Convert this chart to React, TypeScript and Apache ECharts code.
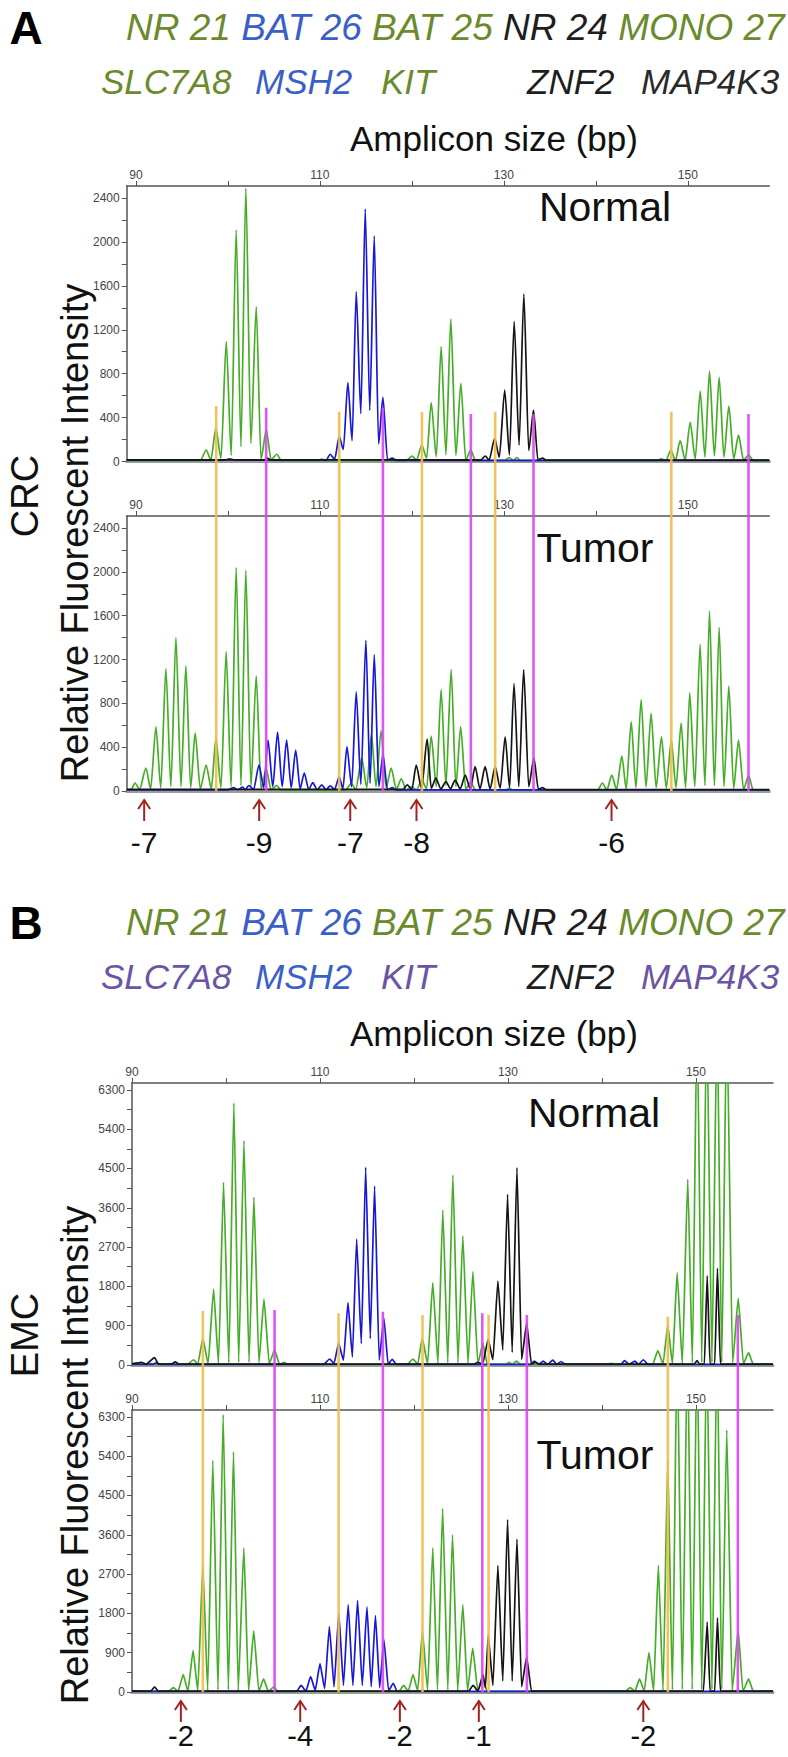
import React, { useEffect, useRef } from "react";
import * as echarts from "echarts";

// ---------- tick values ----------
const xTickMarks = [90, 100, 110, 120, 130, 140, 150];
const xTickLabels = [90, 110, 130, 150];
const crcYLabels = [0, 400, 800, 1200, 1600, 2000, 2400];
const crcYTicks = [0, 200, 400, 600, 800, 1000, 1200, 1400, 1600, 1800, 2000, 2200, 2400];
const emcYLabels = [0, 900, 1800, 2700, 3600, 4500, 5400, 6300];
const emcYTicks = [0, 450, 900, 1350, 1800, 2250, 2700, 3150, 3600, 4050, 4500, 4950, 5400, 5850, 6300];

// ---------- labels ----------
const markerNames = ["NR 21", "BAT 26", "BAT 25", "NR 24", "MONO 27"];
const geneNames = ["SLC7A8", "MSH2", "KIT", "ZNF2", "MAP4K3"];
const sampleNames = ["Normal", "Tumor"];
const crcShifts: [number, string][] = [[90.9, "-7"], [103.4, "-9"], [113.3, "-7"], [120.5, "-8"], [141.7, "-6"]];
const emcShifts: [number, string][] = [[95.2, "-2"], [107.9, "-4"], [118.5, "-2"], [126.9, "-1"], [144.4, "-2"]];

// bin lines: [size bp, top intensity in the Normal panel]
const crcBinStarts = [[98.73, 506], [112.1, 454], [121.09, 448], [129.05, 454], [148.2, 454]];
const crcBinEnds = [[104.16, 490], [116.85, 487], [126.41, 433], [133.22, 433], [156.59, 433]];
const emcBinStarts = [[97.54, 1237], [111.98, 1184], [120.91, 1145], [127.94, 1150], [147.01, 1106]];
const emcBinEnds = [[105.17, 1260], [116.69, 1221], [127.27, 1184], [132.01, 1145], [154.46, 1145]];

// ---------- traces [bp, RFU] ----------
const crcNormalGreen = [
  [89, 8], [97.0, 8], [97.64, 105], [98.15, 15], [98.69, 302], [99.25, 30], [99.82, 1092], [100.36, 55],
  [100.9, 2109], [101.42, 135], [101.95, 2489], [102.5, 165], [103.08, 1410], [103.6, 20], [104.17, 287],
  [104.7, 15], [105.32, 66], [105.8, 8], [119.4, 8], [119.99, 50], [120.5, 15], [121.08, 150], [121.6, 30],
  [122.1, 536], [122.65, 45], [123.18, 1046], [123.7, 60], [124.23, 1298], [124.78, 55], [125.32, 712],
  [125.85, 15], [126.41, 105], [126.9, 8], [130.1, 10], [130.6, 35], [131.0, 10], [131.4, 35], [131.8, 8],
  [146.6, 8], [147.1, 25], [147.6, 8], [148.15, 105], [148.65, 10], [149.16, 190], [149.7, 15], [150.25, 357],
  [150.8, 25], [151.34, 642], [151.85, 40], [152.35, 824], [152.88, 50], [153.4, 767], [153.92, 40],
  [154.45, 505], [154.98, 25], [155.5, 241], [156.05, 12], [156.6, 60], [157.1, 8], [158.85, 8]
];
const crcNormalBlue = [
  [89, 12], [99.6, 12], [100.2, 25], [100.8, 12], [109.8, 12], [110.21, 20], [110.65, 10], [111.12, 66],
  [111.6, 20], [112.1, 226], [112.55, 110], [113.04, 718], [113.5, 190], [113.95, 1547], [114.45, 437],
  [114.93, 2300], [115.42, 467], [115.91, 2054], [116.38, 160], [116.85, 585], [117.35, 15], [117.87, 30],
  [118.3, 10], [158.85, 10]
];
const crcNormalBlack = [
  [89, 15], [104.0, 15], [104.3, 30], [104.6, 15], [127.5, 15], [127.97, 50], [128.4, 15], [129.0, 210],
  [129.5, 40], [130.09, 651], [130.6, 60], [131.12, 1274], [131.65, 150], [132.17, 1526], [132.7, 100],
  [133.22, 469], [133.7, 15], [134.2, 30], [134.6, 12], [158.85, 12]
];
const crcTumorGreen = [
  [89.0, 10], [89.5, 15], [89.9, 73], [90.4, 15], [91.09, 209], [91.6, 20], [92.18, 586], [92.7, 30],
  [93.26, 1118], [93.8, 40], [94.35, 1400], [94.9, 40], [95.43, 1142], [95.95, 30], [96.44, 528], [97.0, 20],
  [97.64, 237], [98.2, 20], [98.7, 480], [99.25, 30], [99.81, 1270], [100.35, 40], [100.9, 2038], [101.42, 50],
  [101.95, 2014], [102.5, 40], [103.08, 1051], [103.6, 20], [104.17, 200], [104.7, 10], [105.3, 50], [105.8, 8],
  [112.8, 8], [113.4, 70], [113.9, 15], [114.55, 300], [115.1, 30], [115.6, 520], [116.1, 40], [116.65, 550],
  [117.2, 30], [117.75, 210], [118.3, 15], [118.85, 110], [119.4, 10], [119.99, 40], [120.5, 10], [121.08, 100],
  [121.6, 20], [122.1, 500], [122.65, 40], [123.18, 926], [123.7, 50], [124.27, 1109], [124.78, 40], [125.3, 586],
  [125.85, 20], [126.4, 80], [126.9, 8], [130.1, 8], [130.6, 25], [131.0, 8], [140.2, 8], [140.7, 73],
  [141.2, 10], [141.73, 146], [142.25, 15], [142.82, 319], [143.3, 20], [143.84, 631], [144.35, 30],
  [144.92, 835], [145.45, 35], [146.0, 708], [146.55, 30], [147.13, 495], [147.65, 25], [148.2, 465],
  [148.7, 30], [149.27, 619], [149.75, 30], [150.2, 896], [150.75, 40], [151.33, 1339], [151.85, 50],
  [152.35, 1642], [152.88, 50], [153.4, 1491], [153.92, 40], [154.45, 958], [154.98, 25], [155.5, 465],
  [156.05, 15], [156.6, 140], [157.1, 8], [158.85, 8]
];
const crcTumorBlue = [
  [89, 10], [100.0, 10], [100.6, 30], [101.1, 12], [101.6, 35], [101.9, 12], [102.25, 50], [102.8, 15],
  [103.38, 237], [103.9, 30], [104.36, 465], [104.88, 40], [105.4, 537], [105.9, 40], [106.38, 465],
  [106.88, 30], [107.37, 374], [107.85, 20], [108.3, 164], [108.78, 15], [109.23, 76], [109.7, 12],
  [110.21, 55], [110.65, 12], [111.12, 46], [111.6, 15], [112.1, 130], [112.5, 20], [112.94, 404],
  [113.45, 40], [113.95, 905], [114.45, 60], [115.0, 1376], [115.45, 70], [115.91, 1245], [116.4, 40],
  [116.85, 330], [117.35, 12], [117.87, 30], [118.3, 10], [158.85, 10]
];
const crcTumorBlack = [
  [89, 15], [119.0, 15], [119.5, 55], [120.0, 15], [120.47, 237], [121.05, 20], [121.66, 474], [122.1, 25],
  [122.6, 118], [123.15, 20], [123.7, 85], [124.2, 20], [124.7, 100], [125.25, 20], [125.8, 146], [126.35, 20],
  [126.87, 222], [127.4, 20], [127.96, 222], [128.5, 20], [129.05, 222], [129.6, 25], [130.14, 495],
  [130.62, 30], [131.1, 981], [131.62, 40], [132.15, 1109], [132.7, 40], [133.26, 300], [133.75, 15],
  [134.2, 30], [134.6, 12], [158.85, 12]
];

const emcNormalGreen = [
  [90, 15], [91.6, 15], [92.0, 40], [92.5, 15], [95.9, 15], [96.55, 120], [97.0, 20], [97.54, 611], [98.1, 30],
  [98.68, 1740], [99.2, 40], [99.74, 4183], [100.3, 50], [100.84, 6000], [101.35, 60], [101.91, 5137],
  [102.45, 60], [102.97, 3840], [103.5, 50], [104.04, 1511], [104.6, 30], [105.17, 343], [105.7, 15],
  [106.2, 60], [106.6, 15], [119.3, 15], [119.89, 137], [120.4, 20], [120.88, 611], [121.45, 30], [122.0, 1885],
  [122.55, 40], [123.07, 3550], [123.6, 50], [124.14, 4351], [124.68, 50], [125.2, 2954], [125.75, 40],
  [126.27, 2137], [126.8, 30], [127.33, 496], [127.8, 15], [129.8, 15], [130.1, 60], [130.5, 15], [130.9, 90],
  [131.3, 15], [140.5, 15], [141.0, 40], [141.5, 15], [145.4, 15], [145.95, 328], [146.5, 25], [147.01, 916],
  [147.5, 30], [148.0, 2114], [148.55, 40], [149.13, 4252], [149.62, 50], [150.12, 8000], [150.62, 60],
  [151.15, 8000], [151.7, 60], [152.25, 8000], [152.75, 60], [153.28, 8000], [153.9, 50], [154.5, 1527],
  [155.05, 30], [155.6, 282], [156.1, 15], [158.2, 15]
];
const emcNormalBlue = [
  [90, 15], [92.2, 15], [92.6, 50], [93.0, 15], [110.4, 15], [111.02, 137], [111.5, 40], [111.98, 496],
  [112.5, 110], [112.98, 1427], [113.45, 183], [113.9, 2885], [114.4, 488], [114.86, 4527], [115.35, 603],
  [115.81, 4099], [116.3, 114], [116.8, 1069], [117.25, 20], [117.69, 130], [118.1, 15], [132.4, 15],
  [132.8, 90], [133.3, 15], [133.75, 90], [134.2, 15], [134.77, 110], [135.2, 15], [135.65, 80], [136.1, 15],
  [142.0, 15], [142.4, 100], [142.9, 15], [143.5, 90], [143.9, 15], [144.4, 120], [144.9, 15], [158.2, 15]
];
const emcNormalBlack = [
  [90, 25], [91.0, 60], [91.5, 20], [92.4, 168], [92.8, 20], [94.2, 25], [94.6, 70], [95.0, 20], [126.4, 20],
  [126.8, 60], [127.3, 20], [127.9, 588], [128.4, 120], [128.93, 1924], [129.45, 343], [129.96, 3909],
  [130.45, 290], [130.96, 4519], [131.45, 130], [131.99, 954], [132.5, 20], [132.9, 60], [133.3, 20],
  [149.8, 20], [150.12, 100], [150.4, 20], [150.9, 20], [151.2, 2045], [151.5, 20], [152.0, 20],
  [152.29, 2214], [152.6, 20], [158.2, 20]
];
const emcTumorGreen = [
  [90, 15], [93.9, 15], [94.4, 100], [94.9, 15], [95.45, 400], [95.95, 20], [96.5, 950], [97.0, 30],
  [97.54, 2900], [98.05, 40], [98.6, 5300], [99.15, 50], [99.7, 6350], [100.25, 50], [100.8, 5500],
  [101.3, 40], [101.9, 3300], [102.4, 30], [102.95, 1400], [103.5, 20], [104.0, 300], [104.5, 15],
  [105.1, 120], [105.5, 15], [118.4, 15], [118.9, 150], [119.4, 20], [119.9, 400], [120.4, 30], [120.9, 1400],
  [121.45, 40], [122.0, 3300], [122.5, 50], [123.05, 4200], [123.6, 50], [124.1, 3600], [124.65, 40],
  [125.2, 2000], [125.7, 30], [126.25, 1000], [126.8, 20], [127.3, 300], [127.8, 15], [142.5, 15],
  [143.0, 100], [143.5, 15], [144.0, 300], [144.5, 20], [145.0, 900], [145.5, 30], [146.0, 2900],
  [146.5, 40], [147.0, 5300], [147.5, 50], [148.0, 8000], [148.55, 60], [149.1, 8000], [149.6, 60],
  [150.12, 8000], [150.62, 60], [151.15, 8000], [151.7, 60], [152.25, 8000], [152.75, 60], [153.28, 6000],
  [153.85, 40], [154.5, 1400], [155.0, 20], [155.6, 300], [156.1, 15], [158.2, 15]
];
const emcTumorBlue = [
  [90, 15], [107.5, 15], [108.0, 150], [108.5, 20], [109.0, 350], [109.5, 40], [110.0, 650], [110.5, 80],
  [111.0, 1500], [111.5, 120], [112.0, 1800], [112.5, 150], [113.0, 2000], [113.5, 150], [114.0, 2100],
  [114.5, 150], [115.0, 1950], [115.45, 120], [115.9, 1750], [116.35, 100], [116.8, 1200], [117.3, 30],
  [117.8, 200], [118.2, 15], [158.2, 15]
];
const emcTumorBlack = [
  [90, 25], [92.0, 20], [92.4, 120], [92.8, 20], [125.8, 20], [126.3, 150], [126.8, 20], [127.35, 400],
  [127.6, 100], [127.9, 1300], [128.4, 150], [128.93, 2900], [129.45, 250], [129.96, 3950], [130.45, 250],
  [130.96, 3500], [131.45, 120], [131.99, 800], [132.5, 20], [150.8, 20], [151.2, 1600], [151.5, 20],
  [152.0, 20], [152.29, 1700], [152.6, 20], [158.2, 20]
];

// ---------- styles ----------
const FONT = "'Liberation Sans', Arial, Helvetica, sans-serif";
const C_GREEN = "#45ad28";
const C_BLUE = "#1717d6";
const C_BLACK = "#151515";
const C_ORANGE = "#efbd4c";
const C_MAGENTA = "#d846f0";
const C_ARROW = "#a3231f";
const T_GREEN = "#6b8a2c";
const T_BLUE = "#3a5fc6";
const T_BLACK = "#1e1e1e";
const T_PURPLE = "#6b54a6";

function buildOption() {
  const grid: any[] = [];
  const xAxis: any[] = [];
  const yAxis: any[] = [];
  const series: any[] = [];

  const axisText = { fontSize: 12, color: "#444", fontFamily: FONT, formatter: (v: number) => String(v) };

  function addPanel(p: any) {
    const gi = grid.length;
    grid.push({ left: p.left, top: p.top, width: p.width, height: p.height });
    const xi = xAxis.length;
    xAxis.push({
      gridIndex: gi, type: "value", position: "top", min: p.xMin, max: p.xMax,
      axisLine: { show: true, onZero: false, lineStyle: { color: "#555", width: 1.5 } },
      axisTick: { show: true, customValues: xTickMarks, length: 5, lineStyle: { color: "#555", width: 1 } },
      axisLabel: { show: true, customValues: xTickLabels, margin: 5, ...axisText },
      splitLine: { show: false },
    });
    xAxis.push({
      gridIndex: gi, type: "value", position: "bottom", min: p.xMin, max: p.xMax,
      axisLine: { show: true, onZero: false, lineStyle: { color: "#9c9c9c", width: 3 } },
      axisTick: { show: false }, axisLabel: { show: false }, splitLine: { show: false },
    });
    const yi = yAxis.length;
    yAxis.push({
      gridIndex: gi, type: "value", min: 0, max: p.yMax,
      axisLine: { show: true, onZero: false, lineStyle: { color: "#555", width: 1.5 } },
      axisTick: { show: true, customValues: p.yTicks, length: 5, lineStyle: { color: "#555", width: 1 } },
      axisLabel: { show: true, customValues: p.yLabels, margin: 7, ...axisText },
      splitLine: { show: false },
    });
    p.traces.forEach((t: any) => {
      series.push({
        type: "line", xAxisIndex: xi, yAxisIndex: yi, data: t.data, symbol: "none", showSymbol: false,
        smooth: p.smooth, smoothMonotone: "x",
        lineStyle: { color: t.color, width: 1.7 }, itemStyle: { color: t.color }, clip: true, z: 2, silent: true,
      });
    });
    return { xi, yi };
  }

  function addBins(left: number, width: number, top: number, height: number, xMin: number, xMax: number,
                   yMin: number, yMax: number, starts: number[][], ends: number[][]) {
    const gi = grid.length;
    grid.push({ left, top, width, height });
    const xi = xAxis.length;
    xAxis.push({ gridIndex: gi, type: "value", min: xMin, max: xMax, show: false });
    const yi = yAxis.length;
    yAxis.push({ gridIndex: gi, type: "value", min: yMin, max: yMax, show: false });
    const mk = (data: number[][], color: string) => ({
      type: "custom", xAxisIndex: xi, yAxisIndex: yi, data, clip: false, z: 5, silent: true,
      renderItem: (_params: any, api: any) => {
        const a = api.coord([api.value(0), api.value(1)]);
        const b = api.coord([api.value(0), yMin]);
        return {
          type: "line",
          shape: { x1: a[0], y1: a[1], x2: b[0], y2: b[1] },
          style: { stroke: color, lineWidth: 2.6, opacity: 0.9 },
        };
      },
    });
    series.push(mk(starts, C_ORANGE));
    series.push(mk(ends, C_MAGENTA));
  }

  function addArrows(xi: number, yi: number, shifts: [number, string][], labelOffset: number, fontSize: number) {
    series.push({
      type: "custom", xAxisIndex: xi, yAxisIndex: yi, data: shifts.map((s) => [s[0], 0]),
      clip: false, z: 6, silent: true,
      renderItem: (params: any, api: any) => {
        const pt = api.coord([api.value(0), 0]);
        const x = pt[0];
        const y0 = pt[1];
        return {
          type: "group",
          children: [
            { type: "line", shape: { x1: x, y1: y0 + 9, x2: x, y2: y0 + 30 }, style: { stroke: C_ARROW, lineWidth: 2 } },
            { type: "polyline", shape: { points: [[x - 6, y0 + 18], [x, y0 + 9], [x + 6, y0 + 18]] },
              style: { stroke: C_ARROW, fill: "none", lineWidth: 2 } },
            { type: "text", style: {
                text: shifts[params.dataIndex][1], x, y: y0 + labelOffset, fill: "#111",
                fontSize, fontFamily: FONT, align: "center", verticalAlign: "middle",
                textAlign: "center", textVerticalAlign: "middle" } },
          ],
        };
      },
    });
  }

  // ---- CRC (A) ----
  const A = { left: 126.7, width: 642.6, xMin: 89, xMax: 158.85, yMax: 2510, yLabels: crcYLabels, yTicks: crcYTicks, smooth: 0.25 };
  addPanel({ ...A, top: 186, height: 275.5, traces: [
    { data: crcNormalGreen, color: C_GREEN }, { data: crcNormalBlue, color: C_BLUE }, { data: crcNormalBlack, color: C_BLACK }] });
  const aT = addPanel({ ...A, top: 516, height: 275, traces: [
    { data: crcTumorGreen, color: C_GREEN }, { data: crcTumorBlue, color: C_BLUE }, { data: crcTumorBlack, color: C_BLACK }] });
  const aOvH = 516 + 275 - 186;
  addBins(A.left, A.width, 186, aOvH, A.xMin, A.xMax, A.yMax - (aOvH / 275.5) * A.yMax, A.yMax, crcBinStarts, crcBinEnds);
  addArrows(aT.xi, aT.yi, crcShifts, 51, 30);

  // ---- EMC (B) ----
  const bTop = 1083, bTumTop = 1410, bH = 282;
  const B = { left: 132, width: 641, xMin: 90, xMax: 158.2, yMax: 6458, yLabels: emcYLabels, yTicks: emcYTicks, smooth: 0.15 };
  addPanel({ ...B, top: bTop, height: bH, traces: [
    { data: emcNormalGreen, color: C_GREEN }, { data: emcNormalBlue, color: C_BLUE }, { data: emcNormalBlack, color: C_BLACK }] });
  const bT = addPanel({ ...B, top: bTumTop, height: bH, traces: [
    { data: emcTumorGreen, color: C_GREEN }, { data: emcTumorBlue, color: C_BLUE }, { data: emcTumorBlack, color: C_BLACK }] });
  const bOvH = bTumTop + bH - bTop;
  addBins(B.left, B.width, bTop, bOvH, B.xMin, B.xMax, B.yMax - (bOvH / bH) * B.yMax, B.yMax, emcBinStarts, emcBinEnds);
  addArrows(bT.xi, bT.yi, emcShifts, 44, 29);

  // ---- texts ----
  const txt = (text: string, x: number, y: number, size: number, fill: string, extra: any = {}) => ({
    type: "text", x, y, silent: true, rotation: extra.rotation || 0,
    style: {
      text, fill, fontSize: size, fontFamily: FONT, fontStyle: extra.italic ? "italic" : "normal",
      fontWeight: extra.bold ? "bold" : "normal",
      align: extra.align || "left", verticalAlign: "middle",
      textAlign: extra.align || "left", textVerticalAlign: "middle",
    },
  });

  const richStyle = (fill: string) => ({ fill, color: fill, fontSize: 37, fontStyle: "italic", fontFamily: FONT });
  const row1 = (x: number, y: number) => ({
    type: "text", x, y, silent: true,
    style: {
      text: `{g|${markerNames[0]}} {b|${markerNames[1]}} {g|${markerNames[2]}} {k|${markerNames[3]}} {g|${markerNames[4]}}`,
      fontSize: 37, fontStyle: "italic", fontFamily: FONT, fill: T_GREEN,
      verticalAlign: "middle", textVerticalAlign: "middle", align: "left", textAlign: "left",
      rich: { g: richStyle(T_GREEN), b: richStyle(T_BLUE), k: richStyle(T_BLACK) },
    },
  });

  const rowX2 = [101, 255, 381, 527, 641];
  const row2ColorsA = [T_GREEN, T_BLUE, T_GREEN, T_BLACK, "#2a2a2a"];
  const row2ColorsB = [T_PURPLE, T_BLUE, T_PURPLE, T_BLACK, T_PURPLE];

  const elements: any[] = [];
  const header = (letter: string, y0: number, row2Colors: string[]) => {
    elements.push(txt(letter, 26, y0 + 1, 46, "#000", { bold: true, align: "center" }));
    elements.push(row1(126, y0));
    geneNames.forEach((n, i) => elements.push(txt(n, rowX2[i], y0 + 54, 35, row2Colors[i], { italic: true })));
    elements.push(txt("Amplicon size (bp)", 350, y0 + 111, 35, "#111"));
  };
  header("A", 27, row2ColorsA);
  header("B", 922, row2ColorsB);

  elements.push(txt(sampleNames[0], 605, 207, 41, "#111", { align: "center" }));
  elements.push(txt(sampleNames[1], 595, 548, 41, "#111", { align: "center" }));
  elements.push(txt(sampleNames[0], 594, 1113, 41, "#111", { align: "center" }));
  elements.push(txt(sampleNames[1], 595, 1455, 41, "#111", { align: "center" }));

  elements.push(txt("Relative Fluorescent Intensity", 75, 533, 38, "#111", { align: "center", rotation: Math.PI / 2 }));
  elements.push(txt("CRC", 25, 496, 38, "#111", { align: "center", rotation: Math.PI / 2 }));
  elements.push(txt("Relative Fluorescent Intensity", 75, 1455, 38, "#111", { align: "center", rotation: Math.PI / 2 }));
  elements.push(txt("EMC", 25, 1335, 38, "#111", { align: "center", rotation: Math.PI / 2 }));

  return {
    animation: false,
    backgroundColor: "#ffffff",
    grid, xAxis, yAxis, series,
    graphic: { elements },
  };
}

export default function App() {
  const ref = useRef<HTMLDivElement>(null);
  useEffect(() => {
    document.body.style.margin = "0";
    const chart = echarts.init(ref.current as HTMLDivElement, null, { renderer: "svg" });
    chart.setOption(buildOption() as any);
    return () => chart.dispose();
  }, []);
  return <div ref={ref} style={{ width: 788, height: 1757 }} />;
}
